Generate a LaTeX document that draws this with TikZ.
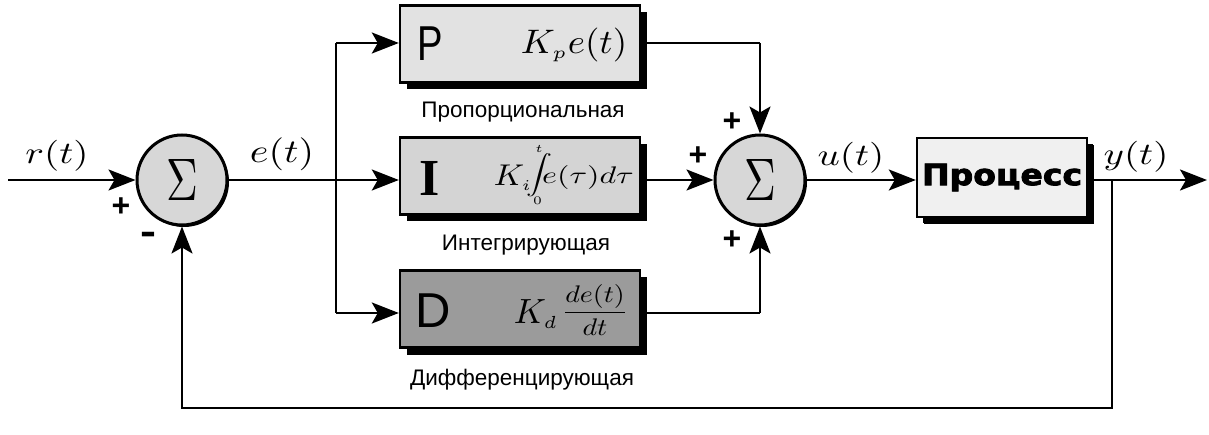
\documentclass[tikz,border=0pt]{standalone}
\usepackage{fontspec}
\usepackage{graphicx}
\usetikzlibrary{arrows.meta,shadows}
\newfontfamily\sansf{Liberation Sans}
\newfontfamily\sansb{Liberation Sans Bold}
\newfontfamily\serifb{Liberation Serif Bold}
\newfontfamily\procf[FakeBold=2.6]{DejaVu Sans Bold}
\definecolor{pfill}{RGB}{226,226,226}
\definecolor{ifill}{RGB}{212,212,212}
\definecolor{dfill}{RGB}{155,155,155}
\definecolor{prfill}{RGB}{240,240,240}
\definecolor{sfill}{RGB}{215,215,215}
\tikzset{
  blk/.style={draw, line width=2.4pt, minimum width=240pt, minimum height=77pt, inner sep=0pt,
    drop shadow={shadow xshift=7pt, shadow yshift=-7pt, fill=black, opacity=1}},
  sumnode/.style={circle, draw, line width=3pt, fill=sfill, minimum size=90pt, inner sep=0pt,
    drop shadow={shadow xshift=2pt, shadow yshift=-2pt, fill=black, opacity=1}},
  mlab/.style={inner sep=0pt},
  sign/.style={inner sep=0pt, font=\sansb\fontsize{32}{32}\selectfont},
  caption/.style={inner sep=0pt, font=\sansf\fontsize{22.5}{22.5}\selectfont},
  conn/.style={line width=2.4pt},
}
\newcommand\mathlbl[1]{\scalebox{3.9}[3.1]{$#1$}}
\begin{document}
\begin{tikzpicture}[x=1pt, y=-1pt, >={Stealth[length=27pt,width=21pt,inset=6pt]}]
\useasboundingbox[fill=white] (0,0) rectangle (1209,435);

% summing junctions
\node[sumnode] (s1) at (182,180) {\scalebox{4.4}[6.0]{$\Sigma$}};
\node[sumnode] (s2) at (760,180) {\scalebox{4.4}[6.0]{$\Sigma$}};

% blocks
\node[blk, fill=pfill] (P) at (520,44) {};
\node[blk, fill=ifill] (I) at (520,176) {};
\node[blk, fill=dfill] (D) at (520,309) {};
\node[blk, fill=prfill, minimum width=170pt, minimum height=79pt,
  drop shadow={shadow xshift=6pt, shadow yshift=-6pt, fill=black, opacity=1}] (proc) at (1002,177.5)
  {\scalebox{1.18}[1.05]{\procf\fontsize{28}{28}\selectfont Процесс}};

% block contents
\node[inner sep=0pt] (Pl) at (430,44) {\scalebox{0.78}[1]{\sansf\fontsize{49}{49}\selectfont P}};
\node[inner sep=0pt] (Il) at (430,178) {\serifb\fontsize{52}{52}\selectfont I};
\node[inner sep=0pt] (Dl) at (433,311) {\sansf\fontsize{49}{49}\selectfont D};
\node[mlab] (Pf) at (574,45) {\scalebox{3.7}[3.4]{$K_{\scriptscriptstyle p}e(t)$}};
% integral term
\node[mlab] (IK) at (513,178) {\scalebox{3.3}[3.0]{$K_{\scriptscriptstyle i}$}};
\node[mlab] (Iint) at (539,175) {\vbox{\offinterlineskip\halign{\hfil#\hfil\cr
  \scalebox{2.6}[2.3]{$\scriptscriptstyle t$}\cr\noalign{\kern1pt}
  \scalebox{2.6}[1.95]{$\displaystyle\int$}\cr\noalign{\kern1pt}
  \kern-3pt\scalebox{2.6}[2.3]{$\scriptscriptstyle 0$}\cr}}};
\node[mlab] (Ie) at (588,178) {\scalebox{3.2}[2.4]{$e(\tau)d\tau$}};
% derivative term
\node[mlab] (DK) at (536,314) {\scalebox{3.5}[3.5]{$K_{\scriptscriptstyle d}$}};
\node[mlab] (Dfr) at (595,310) {\scalebox{2.8}[2.4]{$\displaystyle\frac{de(t)}{dt}$}};

% captions
\node[caption] (cP) at (523,112) {Пропорциональная};
\node[caption] (cI) at (526,245) {Интегрирующая};
\node[caption] (cD) at (522,380) {Дифференцирующая};

% signal labels
\node[mlab] (lr) at (57,156) {\mathlbl{r(t)}};
\node[mlab] (le) at (282,154) {\scalebox{4.0}[3.3]{$e(t)$}};
\node[mlab] (lu) at (851,158) {\mathlbl{u(t)}};
\node[mlab] (ly) at (1136,157) {\mathlbl{y(t)}};

% signs
\node[sign] (p1) at (121,207) {+};
\node[sign] (m1) at (148,238) {\scalebox{1.5}[1.2]{-}};
\node[sign] (p2) at (732,122) {+};
\node[sign] (p3) at (698,156) {+};
\node[sign] (p4) at (732,240) {+};

% coordinates
\coordinate (in) at (8,180);
\coordinate (j1) at (336,180);
\coordinate (jt) at (336,43);
\coordinate (jb) at (336,313);
\coordinate (pc) at (760,43);
\coordinate (dc) at (760,313);
\coordinate (jo) at (1112,180);
\coordinate (out) at (1207,180);
\coordinate (fb1) at (1112,408);
\coordinate (fb2) at (182,408);

% connectors
\begin{scope}[conn]
\draw[->] (in) -- (s1);
\draw (s1) -- (j1);
\draw[->] (j1) -- (j1 -| I.west);
\draw (jt) -- (jb);
\draw[->] (jt) -- (jt -| P.west);
\draw[->] (jb) -- (jb -| D.west);
\draw (jt -| P.east) -- (pc);
\draw[->] (pc) -- (s2);
\draw[->] (I.east |- j1) -- (s2);
\draw (jb -| D.east) -- (dc);
\draw[->] (dc) -- (s2);
\draw[->] (s2) -- (proc.west |- s2);
\draw[->] (proc.east |- s2) -- (out);
\draw[->] (jo) -- (fb1) -- (fb2) -- (s1);
\end{scope}
\end{tikzpicture}
\end{document}
